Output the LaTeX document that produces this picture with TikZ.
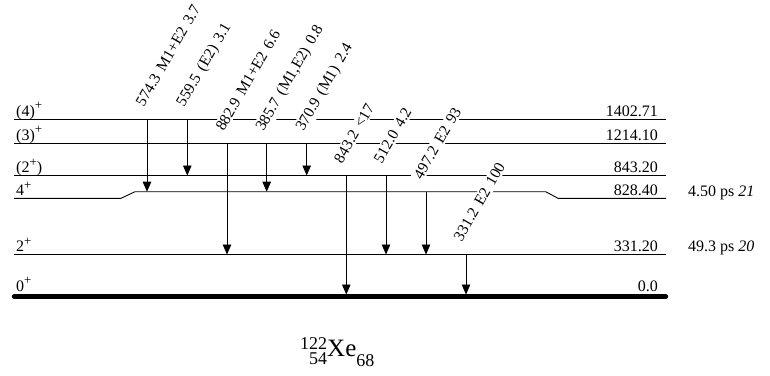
\documentclass[tikz,border=0pt]{standalone}
\usepackage{fontspec}
\setmainfont{Liberation Serif}
\usetikzlibrary{arrows.meta}
\newcommand{\sppl}{\raisebox{6.5pt}{\fontsize{13}{13}\selectfont +}}
\newcommand{\widesp}{\spaceskip=6pt\relax}
\begin{document}
\begin{tikzpicture}[x=1pt,y=-1pt,
  lvl/.style={line width=0.9pt},
  gnd/.style={line width=4.3pt,line cap=round},
  gam/.style={line width=0.9pt,-{Triangle[width=8.5pt,length=10pt]}},
  glab/.style={rotate=60,anchor=base west,fill=white,inner sep=1.5pt,font=\fontsize{15.5}{18}\selectfont,execute at begin node=\widesp},
  elab/.style={anchor=base east,inner sep=0pt,font=\fontsize{16}{19}\selectfont},
  slab/.style={anchor=base west,inner sep=0pt,font=\fontsize{16}{19}\selectfont},
  tlab/.style={anchor=base west,inner sep=0pt,font=\fontsize{16}{19}\selectfont}]
\useasboundingbox (0,0) rectangle (770,375);

% levels
\draw[lvl] (14,119) -- (666,119);
\draw[lvl] (14,143.3) -- (666,143.3);
\draw[lvl] (14,175.5) -- (666,175.5);
\draw[lvl] (14,198.3) -- (121,198.3) -- (135,191.7) -- (545.7,191.7) -- (558,198.3) -- (666,198.3);
\draw[lvl] (14,254.5) -- (666,254.5);
\draw[gnd] (14,296.5) -- (666,296.5);

% spin labels
\node[slab] (s1) at (16,116) {(4)\sppl};
\node[slab] (s2) at (16,140.3) {(3)\sppl};
\node[slab] (s3) at (16,172.5) {(2\sppl)};
\node[slab] (s4) at (16,195.5) {4\sppl};
\node[slab] (s5) at (16,251.5) {2\sppl};
\node[slab] (s6) at (16,291) {0\sppl};

% energy labels
\node[elab] (e1) at (658,116) {1402.71};
\node[elab] (e2) at (658,140.3) {1214.10};
\node[elab] (e3) at (658,172.5) {843.20};
\node[elab] (e4) at (658,195.5) {828.40};
\node[elab] (e5) at (658,251.5) {331.20};
\node[elab] (e6) at (658,291) {0.0};

% half-lives
\node[tlab] (h1) at (688,196) {4.50 ps \textit{21}};
\node[tlab] (h2) at (688,251) {49.3 ps \textit{20}};

% transition end points
\coordinate (a1) at (147,119);   \coordinate (b1) at (147,191.7);
\coordinate (a2) at (187.3,119); \coordinate (b2) at (187.3,175.5);
\coordinate (a3) at (227,143.3); \coordinate (b3) at (227,254.5);
\coordinate (a4) at (266.7,143.3); \coordinate (b4) at (266.7,191.7);
\coordinate (a5) at (306.7,143.3); \coordinate (b5) at (306.7,175.5);
\coordinate (a6) at (346.3,175.5); \coordinate (b6) at (346.3,294.5);
\coordinate (a7) at (386,175.5); \coordinate (b7) at (386,254.5);
\coordinate (a8) at (426,191.7); \coordinate (b8) at (426,254.5);
\coordinate (a9) at (466,254.5); \coordinate (b9) at (466,294.5);

\foreach \i in {1,...,9} {\draw[gam] (a\i) -- (b\i);}

% gamma labels
\node[glab] (g1) at ([shift={(-4,-10)}]a1) {574.3 M1+E2 3.7};
\node[glab] (g2) at ([shift={(-4,-10)}]a2) {559.5 (E2) 3.1};
\node[glab] (g3) at ([shift={(-4,-10)}]a3) {882.9 M1+E2 6.6};
\node[glab] (g4) at ([shift={(-4,-10)}]a4) {385.7 (M1,E2) 0.8};
\node[glab] (g5) at ([shift={(-4,-10)}]a5) {370.9 (M1) 2.4};
\node[glab] (g6) at ([shift={(-5,-10)}]a6) {843.2 <17};
\node[glab] (g7) at ([shift={(-5,-10)}]a7) {512.0 4.2};
\node[glab] (g8) at ([shift={(-5,-10)}]a8) {497.2 E2 93};
\node[glab] (g9) at ([shift={(-5,-11)}]a9) {331.2 E2 100};

% nucleus
\node[anchor=base west,inner sep=0pt] (nuc) at (300,356)
  {\fontsize{18}{18}\selectfont\rlap{\raisebox{7pt}{122}}\hphantom{122}\llap{\raisebox{-8pt}{54}}\fontsize{25}{25}\selectfont Xe\fontsize{18}{18}\selectfont\raisebox{-10pt}{68}};
\end{tikzpicture}
\end{document}
